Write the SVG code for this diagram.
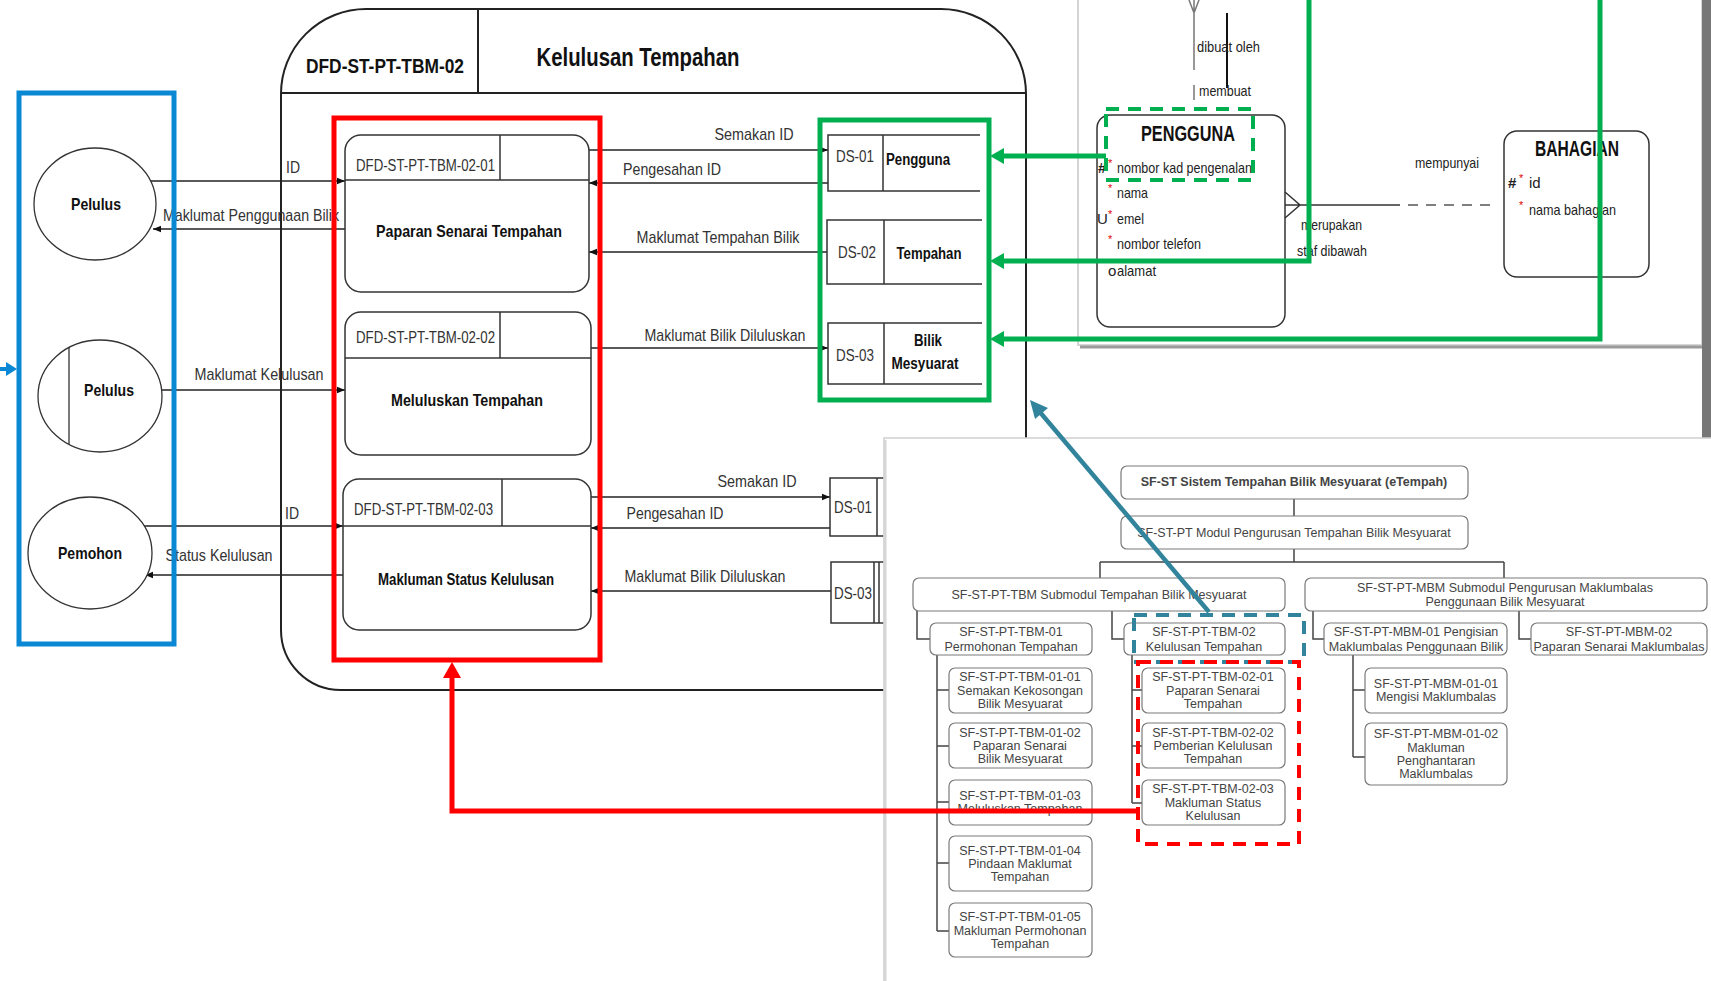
<svg xmlns="http://www.w3.org/2000/svg" width="1711" height="981" viewBox="0 0 1711 981">
<defs>
<style>
.nar{font-family:"Liberation Sans Narrow","Arial Narrow","Liberation Sans",sans-serif}
.lbl{font-size:17px;fill:#333}
.pid{font-size:16px;fill:#333}
.pt{font-size:17px;font-weight:bold;fill:#111;text-anchor:middle}
.ent{font-size:17px;font-weight:bold;fill:#111;text-anchor:middle}
.mid{text-anchor:middle}
.conn{stroke:#222;stroke-width:1.5;fill:none}
.ln{stroke:#333;stroke-width:1.5;fill:none}
.proc{fill:#fff;stroke:#333;stroke-width:1.5}
.hb{fill:#fff;stroke:#7a7a7a;stroke-width:1.2}
.ht{font-family:"Liberation Sans",Arial,sans-serif;font-size:12.5px;fill:#444;text-anchor:middle}
.hl{stroke:#444;stroke-width:1.5;fill:none}
.erd{font-size:15px;fill:#222}
.star{font-size:11px;fill:#e00000}
.green{stroke:#00b050;stroke-width:5;fill:none}
</style>
<marker id="ah" viewBox="0 0 10 10" refX="10" refY="5" markerWidth="8" markerHeight="8" markerUnits="userSpaceOnUse" orient="auto">
<path d="M0,1 L10,5 L0,9 Z" fill="#111"/>
</marker>
</defs>
<rect width="1711" height="981" fill="#fff"/>

<!-- DFD frame -->
<g id="dfd-frame">
<path d="M366,9 H941 A85,85 0 0 1 1026,94 V690 H341 A60,60 0 0 1 281,630 V94 A85,85 0 0 1 366,9 Z" fill="#fff" stroke="#222" stroke-width="2"/>
<line x1="281" y1="93" x2="1026" y2="93" stroke="#222" stroke-width="2"/>
<line x1="478" y1="9" x2="478" y2="93" stroke="#222" stroke-width="2"/>
<text class="nar" x="385" y="73" font-size="20" font-weight="bold" text-anchor="middle" fill="#111" textLength="158" lengthAdjust="spacingAndGlyphs">DFD-ST-PT-TBM-02</text>
<text class="nar" x="638" y="66" font-size="26" font-weight="bold" text-anchor="middle" fill="#111" textLength="203" lengthAdjust="spacingAndGlyphs">Kelulusan Tempahan</text>
</g>

<!-- connectors -->
<g id="connectors">
<line class="conn" x1="148" y1="181" x2="345" y2="181" marker-end="url(#ah)"/>
<text class="nar lbl" x="293" y="173" text-anchor="middle" textLength="14" lengthAdjust="spacingAndGlyphs">ID</text>
<line class="conn" x1="345" y1="229" x2="153" y2="229" marker-end="url(#ah)"/>
<text class="nar lbl" x="251" y="221" text-anchor="middle" textLength="176" lengthAdjust="spacingAndGlyphs">Maklumat Penggunaan Bilik</text>
<line class="conn" x1="162" y1="390" x2="345" y2="390" marker-end="url(#ah)"/>
<text class="nar lbl" x="259" y="380" text-anchor="middle" textLength="129" lengthAdjust="spacingAndGlyphs">Maklumat Kelulusan</text>
<line class="conn" x1="143" y1="526" x2="343" y2="526" marker-end="url(#ah)"/>
<text class="nar lbl" x="292" y="519" text-anchor="middle" textLength="14" lengthAdjust="spacingAndGlyphs">ID</text>
<line class="conn" x1="343" y1="575" x2="145" y2="575" marker-end="url(#ah)"/>
<text class="nar lbl" x="219" y="561" text-anchor="middle" textLength="107" lengthAdjust="spacingAndGlyphs">Status Kelulusan</text>

<line class="conn" x1="589" y1="150" x2="828" y2="150" marker-end="url(#ah)"/>
<text class="nar lbl" x="754" y="140" text-anchor="middle" textLength="79" lengthAdjust="spacingAndGlyphs">Semakan ID</text>
<line class="conn" x1="828" y1="183" x2="589" y2="183" marker-end="url(#ah)"/>
<text class="nar lbl" x="672" y="175" text-anchor="middle" textLength="98" lengthAdjust="spacingAndGlyphs">Pengesahan ID</text>
<line class="conn" x1="827" y1="252" x2="589" y2="252" marker-end="url(#ah)"/>
<text class="nar lbl" x="718" y="243" text-anchor="middle" textLength="163" lengthAdjust="spacingAndGlyphs">Maklumat Tempahan Bilik</text>
<line class="conn" x1="591" y1="348" x2="828" y2="348" marker-end="url(#ah)"/>
<text class="nar lbl" x="725" y="341" text-anchor="middle" textLength="161" lengthAdjust="spacingAndGlyphs">Maklumat Bilik Diluluskan</text>

<line class="conn" x1="591" y1="497" x2="830" y2="497" marker-end="url(#ah)"/>
<text class="nar lbl" x="757" y="487" text-anchor="middle" textLength="79" lengthAdjust="spacingAndGlyphs">Semakan ID</text>
<line class="conn" x1="830" y1="528" x2="591" y2="528" marker-end="url(#ah)"/>
<text class="nar lbl" x="675" y="519" text-anchor="middle" textLength="97" lengthAdjust="spacingAndGlyphs">Pengesahan ID</text>
<line class="conn" x1="831" y1="591" x2="591" y2="591" marker-end="url(#ah)"/>
<text class="nar lbl" x="705" y="582" text-anchor="middle" textLength="161" lengthAdjust="spacingAndGlyphs">Maklumat Bilik Diluluskan</text>
</g>

<!-- external entities -->
<g id="ent-pelulus-1">
<ellipse cx="95" cy="204" rx="61" ry="56" fill="#fff" stroke="#333" stroke-width="1.3"/>
<text class="nar ent" x="96" y="210" textLength="50" lengthAdjust="spacingAndGlyphs">Pelulus</text>
</g>
<g id="ent-pelulus-2">
<ellipse cx="100" cy="396" rx="62" ry="56" fill="#fff" stroke="#333" stroke-width="1.3"/>
<line x1="69" y1="348" x2="69" y2="444" stroke="#333" stroke-width="1.3"/>
<text class="nar ent" x="109" y="396" textLength="50" lengthAdjust="spacingAndGlyphs">Pelulus</text>
</g>
<g id="ent-pemohon">
<ellipse cx="90" cy="553" rx="62" ry="56" fill="#fff" stroke="#333" stroke-width="1.3"/>
<text class="nar ent" x="90" y="559" textLength="64" lengthAdjust="spacingAndGlyphs">Pemohon</text>
</g>
<g id="blue-box">
<rect x="19" y="93" width="155" height="551" fill="none" stroke="#0a88d4" stroke-width="5"/>
<line x1="0" y1="369" x2="8" y2="369" stroke="#0a88d4" stroke-width="4"/>
<polygon points="17,369 6,362 6,376" fill="#0a88d4"/>
</g>

<!-- processes -->
<g id="proc-02-01">
<rect class="proc" x="345" y="135" width="244" height="157" rx="16"/>
<line class="ln" x1="345" y1="180" x2="589" y2="180"/>
<line class="ln" x1="500" y1="135" x2="500" y2="180"/>
<text class="nar pid" x="356" y="171" textLength="139" lengthAdjust="spacingAndGlyphs">DFD-ST-PT-TBM-02-01</text>
<text class="nar pt" x="469" y="237" textLength="186" lengthAdjust="spacingAndGlyphs">Paparan Senarai Tempahan</text>
</g>
<g id="proc-02-02">
<rect class="proc" x="345" y="312" width="246" height="143" rx="16"/>
<line class="ln" x1="345" y1="358" x2="591" y2="358"/>
<line class="ln" x1="500" y1="312" x2="500" y2="358"/>
<text class="nar pid" x="356" y="343" textLength="139" lengthAdjust="spacingAndGlyphs">DFD-ST-PT-TBM-02-02</text>
<text class="nar pt" x="467" y="406" textLength="152" lengthAdjust="spacingAndGlyphs">Meluluskan Tempahan</text>
</g>
<g id="proc-02-03">
<rect class="proc" x="343" y="479" width="248" height="151" rx="16"/>
<line class="ln" x1="343" y1="526" x2="591" y2="526"/>
<line class="ln" x1="502" y1="479" x2="502" y2="526"/>
<text class="nar pid" x="354" y="515" textLength="139" lengthAdjust="spacingAndGlyphs">DFD-ST-PT-TBM-02-03</text>
<text class="nar pt" x="466" y="585" textLength="176" lengthAdjust="spacingAndGlyphs">Makluman Status Kelulusan</text>
</g>
<rect x="334" y="118" width="266" height="542" fill="none" stroke="#ff0000" stroke-width="5"/>

<!-- data stores -->
<g id="ds-01">
<path class="ln" d="M980,135 H828 V191 H980 M883,135 V191"/>
<text class="nar lbl mid" x="855" y="162" textLength="38" lengthAdjust="spacingAndGlyphs">DS-01</text>
<text class="nar" x="886" y="165" font-size="16" font-weight="bold" fill="#111" textLength="64" lengthAdjust="spacingAndGlyphs">Pengguna</text>
</g>
<g id="ds-02">
<path class="ln" d="M982,220 H827 V284 H982 M884,220 V284"/>
<text class="nar lbl mid" x="857" y="258" textLength="38" lengthAdjust="spacingAndGlyphs">DS-02</text>
<text class="nar" x="929" y="259" font-size="16" font-weight="bold" fill="#111" text-anchor="middle" textLength="65" lengthAdjust="spacingAndGlyphs">Tempahan</text>
</g>
<g id="ds-03">
<path class="ln" d="M982,323 H828 V384 H982 M884,323 V384"/>
<text class="nar lbl mid" x="855" y="361" textLength="38" lengthAdjust="spacingAndGlyphs">DS-03</text>
<text class="nar" x="928" y="346" font-size="16" font-weight="bold" fill="#111" text-anchor="middle" textLength="28" lengthAdjust="spacingAndGlyphs">Bilik</text>
<text class="nar" x="925" y="369" font-size="16" font-weight="bold" fill="#111" text-anchor="middle" textLength="67" lengthAdjust="spacingAndGlyphs">Mesyuarat</text>
</g>
<rect x="820" y="120" width="169" height="280" fill="none" stroke="#00b050" stroke-width="5"/>
<g id="ds-01-b">
<path class="ln" d="M885,478 H830 V536 H885 M877,478 V536"/>
<text class="nar lbl mid" x="853" y="513" textLength="38" lengthAdjust="spacingAndGlyphs">DS-01</text>
</g>
<g id="ds-03-b">
<path class="ln" d="M885,562 H831 V623 H885 M874,562 V623 M879,562 V623"/>
<text class="nar lbl mid" x="853" y="599" textLength="38" lengthAdjust="spacingAndGlyphs">DS-03</text>
</g>

<!-- ERD screenshot -->
<g id="erd">
<rect x="1078" y="-4" width="624" height="349" fill="#fff" stroke="#c8c8c8" stroke-width="1.5"/>
<line x1="1080" y1="347" x2="1702" y2="347" stroke="#9a9a9a" stroke-width="3"/>
<rect x="1702" y="0" width="9" height="438" fill="#777"/>
<path d="M1194,0 V70 M1189,0 L1194,13 L1199,0 M1194,85 V100" stroke="#777" stroke-width="1.5" fill="none"/>
<line x1="1227" y1="13" x2="1227" y2="88" stroke="#111" stroke-width="2"/>
<text class="nar erd" x="1197" y="52" textLength="63" lengthAdjust="spacingAndGlyphs">dibuat oleh</text>
<text class="nar erd" x="1199" y="96" textLength="52" lengthAdjust="spacingAndGlyphs">membuat</text>
<g id="erd-pengguna">
<rect x="1097" y="115" width="188" height="212" rx="13" fill="none" stroke="#333" stroke-width="1.5"/>
<text class="nar" x="1188" y="141" font-size="22" font-weight="bold" text-anchor="middle" fill="#111" textLength="94" lengthAdjust="spacingAndGlyphs">PENGGUNA</text>
<text class="nar erd" x="1098" y="173" fill="#1f3fd0" font-weight="bold">#</text>
<text class="nar star" x="1108" y="167">*</text>
<text class="nar erd" x="1117" y="173" textLength="135" lengthAdjust="spacingAndGlyphs">nombor kad pengenalan</text>
<text class="nar star" x="1108" y="192">*</text>
<text class="nar erd" x="1117" y="198" textLength="31" lengthAdjust="spacingAndGlyphs">nama</text>
<text class="nar erd" x="1097" y="224" fill="#1f3fd0">U</text>
<text class="nar star" x="1108" y="218">*</text>
<text class="nar erd" x="1117" y="224" textLength="27" lengthAdjust="spacingAndGlyphs">emel</text>
<text class="nar star" x="1108" y="243">*</text>
<text class="nar erd" x="1117" y="249" textLength="84" lengthAdjust="spacingAndGlyphs">nombor telefon</text>
<text class="nar erd" x="1108" y="276" fill="#e00000">o</text>
<text class="nar erd" x="1117" y="276" textLength="39" lengthAdjust="spacingAndGlyphs">alamat</text>
</g>
<path d="M1285,192 L1300,205 L1285,218 M1285,205 H1400" stroke="#333" stroke-width="1.5" fill="none"/>
<line x1="1408" y1="205" x2="1496" y2="205" stroke="#555" stroke-width="1.5" stroke-dasharray="10 8"/>
<text class="nar erd" x="1447" y="168" text-anchor="middle" textLength="64" lengthAdjust="spacingAndGlyphs">mempunyai</text>
<text class="nar erd" x="1301" y="230" textLength="61" lengthAdjust="spacingAndGlyphs">merupakan</text>
<text class="nar erd" x="1297" y="256" textLength="70" lengthAdjust="spacingAndGlyphs">staf dibawah</text>
<g id="erd-bahagian">
<rect x="1504" y="131" width="145" height="146" rx="13" fill="none" stroke="#333" stroke-width="1.5"/>
<text class="nar" x="1577" y="156" font-size="22" font-weight="bold" text-anchor="middle" fill="#111" textLength="84" lengthAdjust="spacingAndGlyphs">BAHAGIAN</text>
<text class="nar erd" x="1508" y="188" fill="#1f3fd0" font-weight="bold">#</text>
<text class="nar star" x="1519" y="182">*</text>
<text class="nar erd" x="1529" y="188">id</text>
<text class="nar star" x="1519" y="209">*</text>
<text class="nar erd" x="1529" y="215" textLength="87" lengthAdjust="spacingAndGlyphs">nama bahagian</text>
</g>
</g>

<!-- green highlight links -->
<g id="green-links">
<rect x="1106" y="109" width="147" height="71" fill="none" stroke="#00b050" stroke-width="4" stroke-dasharray="13 9"/>
<polyline class="green" points="1106,156 1002,156"/>
<polygon points="990,156 1004,148 1004,164" fill="#00b050"/>
<polyline class="green" points="1309,0 1309,261 1002,261"/>
<polygon points="990,261 1004,253 1004,269" fill="#00b050"/>
<polyline class="green" points="1600,0 1600,339 1002,339"/>
<polygon points="990,339 1004,331 1004,347" fill="#00b050"/>
</g>

<!-- hierarchy screenshot -->
<g id="hierarchy">
<rect x="884" y="438" width="830" height="550" fill="#fff" stroke="#cfcfcf" stroke-width="1.5"/>
<line x1="885" y1="440" x2="885" y2="981" stroke="#d6d6d6" stroke-width="3"/>
<path class="hl" d="M1294,499 V516 M1294,549 V562 M1100,562 H1504 M1100,562 V578 M1504,562 V578"/>
<path class="hl" d="M917,611 V639 H931 M1112,611 V639 H1124 M1313,611 V639 H1324 M1519,611 V639 H1531"/>
<path class="hl" d="M937,655 V931 M937,690 H949 M937,746 H949 M937,802 H949 M937,863 H949 M937,931 H949"/>
<path class="hl" d="M1132,655 V803 M1132,690 H1142 M1132,746 H1142 M1132,803 H1142"/>
<path class="hl" d="M1353,655 V757 M1353,690 H1365 M1353,757 H1365"/>
<g id="h-root"><rect class="hb" x="1121" y="466" width="347" height="33" rx="6"/><text class="ht" x="1294" y="486" font-weight="bold" fill="#222">SF-ST Sistem Tempahan Bilik Mesyuarat (eTempah)</text></g>
<g id="h-pt"><rect class="hb" x="1121" y="516" width="347" height="33" rx="6"/><text class="ht" x="1294" y="537">SF-ST-PT Modul Pengurusan Tempahan Bilik Mesyuarat</text></g>
<g id="h-tbm"><rect class="hb" x="913" y="578" width="372" height="33" rx="6"/><text class="ht" x="1099" y="599">SF-ST-PT-TBM Submodul Tempahan Bilik Mesyuarat</text></g>
<g id="h-mbm"><rect class="hb" x="1305" y="578" width="402" height="33" rx="6"/><text class="ht" x="1505" y="592">SF-ST-PT-MBM Submodul Pengurusan Maklumbalas</text><text class="ht" x="1505" y="606">Penggunaan Bilik Mesyuarat</text></g>
<g id="h-tbm01"><rect class="hb" x="930" y="623" width="162" height="32" rx="6"/><text class="ht" x="1011" y="636">SF-ST-PT-TBM-01</text><text class="ht" x="1011" y="651">Permohonan Tempahan</text></g>
<g id="h-tbm02"><rect class="hb" x="1124" y="623" width="161" height="32" rx="6"/><text class="ht" x="1204" y="636">SF-ST-PT-TBM-02</text><text class="ht" x="1204" y="651">Kelulusan Tempahan</text></g>
<g id="h-mbm01"><rect class="hb" x="1324" y="623" width="183" height="32" rx="6"/><text class="ht" x="1416" y="636">SF-ST-PT-MBM-01 Pengisian</text><text class="ht" x="1416" y="651">Maklumbalas Penggunaan Bilik</text></g>
<g id="h-mbm02"><rect class="hb" x="1531" y="623" width="176" height="32" rx="6"/><text class="ht" x="1619" y="636">SF-ST-PT-MBM-02</text><text class="ht" x="1619" y="651">Paparan Senarai Maklumbalas</text></g>

<g id="h-tbm0101"><rect class="hb" x="949" y="668" width="143" height="45" rx="6"/><text class="ht" x="1020" y="681">SF-ST-PT-TBM-01-01</text><text class="ht" x="1020" y="695">Semakan Kekosongan</text><text class="ht" x="1020" y="708">Bilik Mesyuarat</text></g>
<g id="h-tbm0102"><rect class="hb" x="949" y="723" width="143" height="45" rx="6"/><text class="ht" x="1020" y="737">SF-ST-PT-TBM-01-02</text><text class="ht" x="1020" y="750">Paparan Senarai</text><text class="ht" x="1020" y="763">Bilik Mesyuarat</text></g>
<g id="h-tbm0103"><rect class="hb" x="949" y="780" width="143" height="45" rx="6"/><text class="ht" x="1020" y="800">SF-ST-PT-TBM-01-03</text><text class="ht" x="1020" y="813">Meluluskan Tempahan</text></g>
<g id="h-tbm0104"><rect class="hb" x="949" y="836" width="143" height="55" rx="6"/><text class="ht" x="1020" y="855">SF-ST-PT-TBM-01-04</text><text class="ht" x="1020" y="868">Pindaan Maklumat</text><text class="ht" x="1020" y="881">Tempahan</text></g>
<g id="h-tbm0105"><rect class="hb" x="949" y="903" width="143" height="54" rx="6"/><text class="ht" x="1020" y="921">SF-ST-PT-TBM-01-05</text><text class="ht" x="1020" y="935">Makluman Permohonan</text><text class="ht" x="1020" y="948">Tempahan</text></g>

<g id="h-tbm0201"><rect class="hb" x="1142" y="668" width="143" height="45" rx="6"/><text class="ht" x="1213" y="681">SF-ST-PT-TBM-02-01</text><text class="ht" x="1213" y="695">Paparan Senarai</text><text class="ht" x="1213" y="708">Tempahan</text></g>
<g id="h-tbm0202"><rect class="hb" x="1142" y="723" width="143" height="45" rx="6"/><text class="ht" x="1213" y="737">SF-ST-PT-TBM-02-02</text><text class="ht" x="1213" y="750">Pemberian Kelulusan</text><text class="ht" x="1213" y="763">Tempahan</text></g>
<g id="h-tbm0203"><rect class="hb" x="1142" y="780" width="143" height="45" rx="6"/><text class="ht" x="1213" y="793">SF-ST-PT-TBM-02-03</text><text class="ht" x="1213" y="807">Makluman Status</text><text class="ht" x="1213" y="820">Kelulusan</text></g>

<g id="h-mbm0101"><rect class="hb" x="1365" y="668" width="142" height="45" rx="6"/><text class="ht" x="1436" y="688">SF-ST-PT-MBM-01-01</text><text class="ht" x="1436" y="701">Mengisi Maklumbalas</text></g>
<g id="h-mbm0102"><rect class="hb" x="1365" y="723" width="142" height="62" rx="6"/><text class="ht" x="1436" y="738">SF-ST-PT-MBM-01-02</text><text class="ht" x="1436" y="752">Makluman</text><text class="ht" x="1436" y="765">Penghantaran</text><text class="ht" x="1436" y="778">Maklumbalas</text></g>

<rect x="1134" y="615" width="170" height="47" fill="none" stroke="#31849b" stroke-width="4" stroke-dasharray="13 9"/>
<rect x="1138" y="662" width="161" height="182" fill="none" stroke="#ff0000" stroke-width="4" stroke-dasharray="13 9"/>
</g>

<!-- highlight arrows -->
<g id="highlight-arrows">
<line x1="1209" y1="612" x2="1039" y2="411" stroke="#31849b" stroke-width="4.5"/>
<polygon points="1030,400 1048,408 1035,419" fill="#31849b"/>
<polyline points="1138,811 452,811 452,676" fill="none" stroke="#ff0000" stroke-width="5"/>
<polygon points="452,662 443,678 461,678" fill="#ff0000"/>
</g>
</svg>
